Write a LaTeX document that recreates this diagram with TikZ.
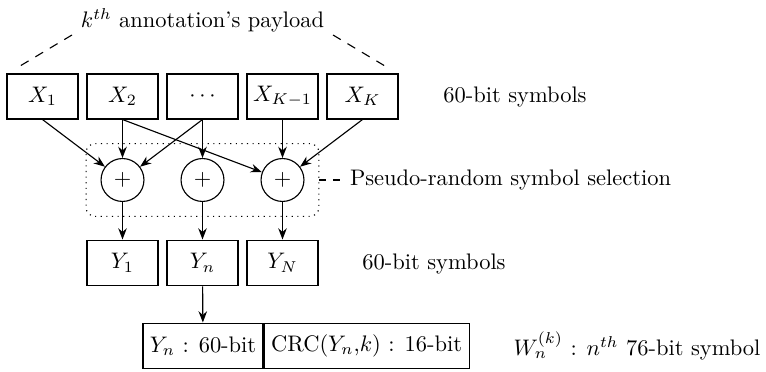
\documentclass[tikz,border=0pt]{standalone}
\usetikzlibrary{arrows.meta,fit}
\begin{document}
\begin{tikzpicture}[x=0.445pt,y=-0.445pt, line width=0.5pt,
  box/.style={draw, minimum width=31.6pt, minimum height=20pt, inner sep=0pt},
  ybox/.style={draw, minimum width=31.6pt, minimum height=20.4pt, inner sep=0pt},
  adder/.style={draw, circle, minimum size=19.1pt, inner sep=0pt},
  arr/.style={-{Stealth[length=5pt,width=3.8pt]}},
  lbl/.style={inner sep=0pt}]
\useasboundingbox (0,0) rectangle (766,372);
% title
\node[lbl] (title) at (202.5,20) {$k^{th}$ annotation's payload};
% X boxes
\node[box] (x1) at (42.5,96.5) {$X_1$};
\node[box] (x2) at (122.5,96.5) {$X_2$};
\node[box] (xd) at (202.5,96.5) {$\cdots$};
\node[box] (xk1) at (282.5,96.5) {$X_{K-1}$};
\node[box] (xk) at (362.5,96.5) {$X_K$};
\node[lbl] (lx) at (515,97) {60-bit symbols};
% dashed guides
\coordinate (tl) at (72,35);
\coordinate (bl) at (15,69);
\coordinate (tr) at (333,35);
\coordinate (br) at (390,69);
\draw[dash pattern=on 4pt off 3.5pt] (tl) -- (bl);
\draw[dash pattern=on 4pt off 3.5pt] (tr) -- (br);
% adders
\node[adder] (c1) at (122.5,180) {$+$};
\node[adder] (c2) at (202.5,180) {$+$};
\node[adder] (c3) at (282.5,180) {$+$};
\node[draw, dotted, rounded corners=4pt, fit=(c1)(c3), inner sep=6.4pt] (sel) {};
\node[anchor=west, inner sep=3.33pt] (pseudo) at (342,180) {Pseudo-random symbol selection};
\draw[dashed] (sel.east) -- (pseudo.west);
% connections X -> adders
\draw[arr] (x1.south) -- (c1);
\draw[arr] (x2.south) -- (c1);
\draw[arr] (x2.south) -- (c3);
\draw[arr] (xd.south) -- (c1);
\draw[arr] (xd.south) -- (c2);
\draw[arr] (xk1.south) -- (c3);
\draw[arr] (xk.south) -- (c3);
% Y boxes
\node[ybox] (y1) at (122.5,263) {$Y_1$};
\node[ybox] (yn) at (202.5,263) {$Y_n$};
\node[ybox] (yN) at (282.5,263) {$Y_N$};
\node[lbl] (ly) at (434,264) {60-bit symbols};
\draw[arr] (c1) -- (y1);
\draw[arr] (c2) -- (yn);
\draw[arr] (c3) -- (yN);
% bottom word
\node[draw, minimum width=53.4pt, minimum height=20.4pt, inner sep=0pt] (wl) at (203,346) {$Y_n$ : 60-bit};
\node[draw, minimum width=91.2pt, minimum height=20.4pt, inner sep=0pt, anchor=west] (wr) at (wl.east) {CRC($Y_n$,$k$) : 16-bit};
\draw[arr] (yn) -- (wl);
\node[lbl, anchor=west] (lw) at (513,346) {$W_n^{(k)}$ : $n^{th}$ 76-bit symbol};
\end{tikzpicture}
\end{document}
